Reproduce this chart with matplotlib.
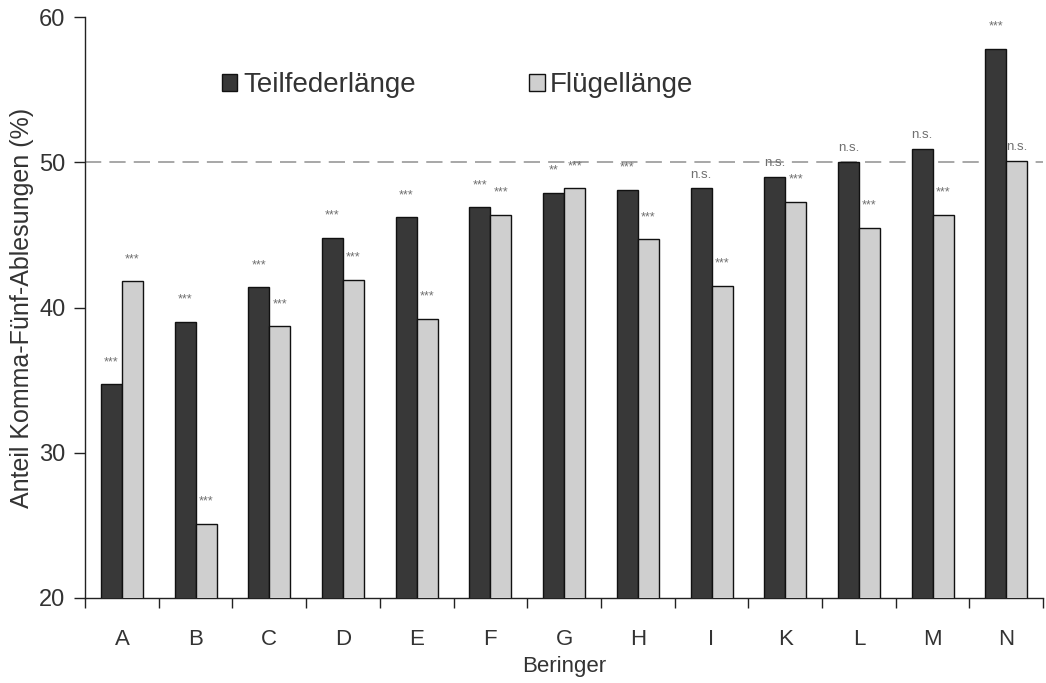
import matplotlib.pyplot as plt
import numpy as np

plt.rcParams['font.family'] = ['Liberation Sans', 'DejaVu Sans']

# Beringer and the share of ".5" readings (%)
beringer = ['A', 'B', 'C', 'D', 'E', 'F', 'G', 'H', 'I', 'K', 'L', 'M', 'N']
teilfeder = [34.7, 39.0, 41.4, 44.8, 46.2, 46.9, 47.9, 48.1, 48.2, 49.0, 50.0, 50.9, 57.8]
fluegel = [41.8, 25.1, 38.7, 41.9, 39.2, 46.4, 48.2, 44.7, 41.5, 47.3, 45.5, 46.4, 50.1]
sig_teilfeder = ['***', '***', '***', '***', '***', '***', '**', '***', 'n.s.', 'n.s.', 'n.s.', 'n.s.', '***']
sig_fluegel = ['***', '***', '***', '***', '***', '***', '***', '***', '***', '***', '***', '***', 'n.s.']

fig = plt.figure(figsize=(10.46, 6.83), dpi=100)
ax = fig.add_axes([0.0813, 0.1245, 0.916, 0.8505])

x = np.arange(len(beringer))
bw = 0.285
bars1 = ax.bar(x - bw / 2, teilfeder, bw, color='#383838', edgecolor='#111111',
               linewidth=1.0, label='Teilfederlänge', zorder=3)
bars2 = ax.bar(x + bw / 2, fluegel, bw, color='#cfcfcf', edgecolor='#111111',
               linewidth=1.0, label='Flügellänge', zorder=3)

# 50 % reference line
ax.axhline(50, color='#a0a0a0', linestyle=(0, (9, 4.5)), linewidth=1.3, zorder=2)

# significance marks above the bars
def mark(bars, labels):
    for b, lab in zip(bars, labels):
        if lab == 'n.s.':
            off, fs = 10, 9.5
        else:
            off, fs = 16, 9
        ax.annotate(lab, (b.get_x() + b.get_width() / 2, b.get_height()),
                    xytext=(0, off), textcoords='offset points', ha='center', va='center',
                    fontsize=fs, color='#6f6f6f', zorder=4)

mark(bars1, sig_teilfeder)
mark(bars2, sig_fluegel)

ax.set_ylim(20, 60)
ax.set_xlim(-0.5, len(beringer) - 0.5)
ax.set_yticks([20, 30, 40, 50, 60])
ax.set_xticks(x)
ax.set_xticklabels(beringer)
ax.set_xticks(np.arange(len(beringer) + 1) - 0.5, minor=True)
ax.tick_params(axis='x', which='major', length=0, pad=22, labelsize=16, labelcolor='#333333')
ax.tick_params(axis='x', which='minor', length=7, width=1, color='#222222', direction='out')
ax.tick_params(axis='y', length=8, width=1, color='#222222', pad=6, labelsize=17, labelcolor='#333333')

for s in ['top', 'right']:
    ax.spines[s].set_visible(False)
for s in ['left', 'bottom']:
    ax.spines[s].set_color('#222222')
    ax.spines[s].set_linewidth(1)

ax.set_xlabel('Beringer', fontsize=16, color='#333333', labelpad=5)
ax.set_ylabel('Anteil Komma-Fünf-Ablesungen (%)', fontsize=18, color='#333333', labelpad=4)

ax.legend(ncol=2, frameon=False, loc='center left', bbox_to_anchor=(0.143, 0.883),
          fontsize=20, handlelength=0.55, handleheight=0.55, handletextpad=0.2,
          columnspacing=4.1, borderpad=0, borderaxespad=0, labelcolor='#333333')

fig.savefig('out.png', dpi=100)
